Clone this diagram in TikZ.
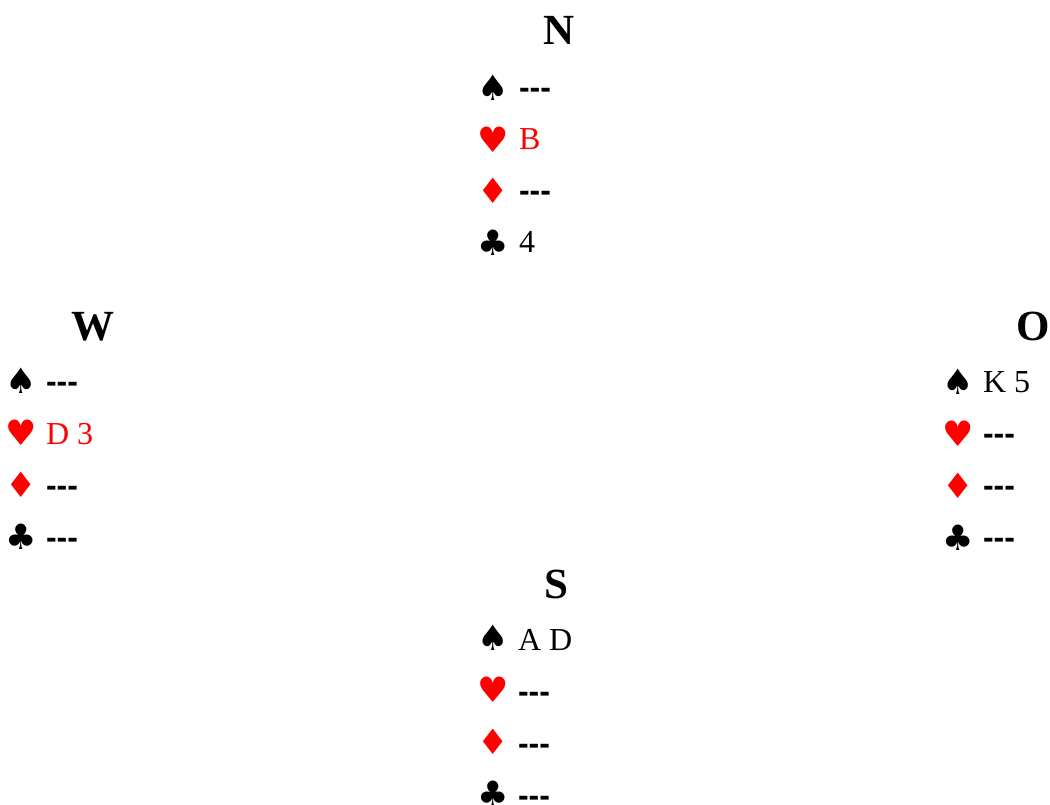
\documentclass[tikz,border=0pt]{standalone}
\usepackage{fontspec}
\setmainfont{Liberation Serif}
\newfontfamily\suitfont{DejaVu Sans}
\newfontfamily\dashfont{Liberation Sans}
\newcommand{\nocards}{{\color{black}\dashfont\bfseries -{}-{}-}}
\begin{document}
\begin{tikzpicture}[x=1pt,y=-1pt,inner sep=0pt,outer sep=0pt,
    hand/.style={font=\fontsize{43}{43}\selectfont\bfseries,anchor=base},
    suit/.style={font=\suitfont\fontsize{35}{35}\selectfont},
    card/.style={font=\fontsize{32}{32}\selectfont,anchor=base west}]
\useasboundingbox (0,0) rectangle (1050,805);

% Nord
\node[hand] (N) at (559,45) {N};
\foreach \sym/\col/\cards [count=\i] in {♠/black/\nocards,♥/red/B,♦/red/\nocards,♣/black/4}
{
    \node[suit,text=\col] (N-s\i) at (493,36.5+51.5*\i) {\sym};
    \node[card,text=\col] (N-c\i) at (519,47+51.5*\i) {\cards};
}

% West
\node[hand] (W) at (93,340) {W};
\foreach \sym/\col/\cards [count=\i] in {♠/black/\nocards,♥/red/D 3,♦/red/\nocards,♣/black/\nocards}
{
    \node[suit,text=\col] (W-s\i) at (21,329+52*\i) {\sym};
    \node[card,text=\col] (W-c\i) at (46,340+52*\i) {\cards};
}

% Ost
\node[hand] (O) at (1033,340) {O};
\foreach \sym/\col/\cards [count=\i] in {♠/black/K 5,♥/red/\nocards,♦/red/\nocards,♣/black/\nocards}
{
    \node[suit,text=\col] (O-s\i) at (958,329.5+52*\i) {\sym};
    \node[card,text=\col] (O-c\i) at (983,340+52*\i) {\cards};
}

% Sued
\node[hand] (S) at (556,598) {S};
\foreach \sym/\col/\cards [count=\i] in {♠/black/A D,♥/red/\nocards,♦/red/\nocards,♣/black/\nocards}
{
    \node[suit,text=\col] (S-s\i) at (493,586+52*\i) {\sym};
    \node[card,text=\col] (S-c\i) at (518,598+52*\i) {\cards};
}
\end{tikzpicture}
\end{document}
